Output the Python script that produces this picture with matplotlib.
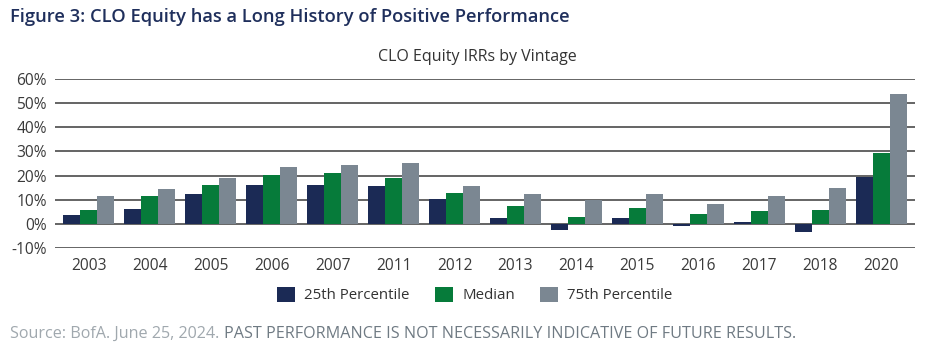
import matplotlib
matplotlib.use("Agg")
import matplotlib.pyplot as plt
import numpy as np

plt.rcParams['font.family'] = ['Open Sans', 'DejaVu Sans']

vintages = ['2003', '2004', '2005', '2006', '2007', '2011', '2012',
            '2013', '2014', '2015', '2016', '2017', '2018', '2020']
p25 = [3.7, 6.2, 12.4, 16.1, 16.1, 15.7, 10.1, 2.5, -2.5, 2.5, -0.8, 0.8, -3.3, 19.4]
median = [5.8, 11.6, 16.1, 20.2, 21.1, 19.0, 12.8, 7.4, 2.9, 6.6, 4.1, 5.4, 5.8, 29.3]
p75 = [11.6, 14.5, 19.0, 23.6, 24.4, 25.2, 15.7, 12.4, 9.9, 12.4, 8.3, 11.6, 14.9, 53.7]
series_names = ['25th Percentile', 'Median', '75th Percentile']
colors = ['#1b2a55', '#067b3a', '#7b8792']

fig = plt.figure(figsize=(9.39, 3.54), dpi=100)
ax = fig.add_axes([55 / 939, 1 - 248 / 354, 860 / 939, 169 / 354])

x = np.arange(len(vintages))
w = 0.277
for i, (vals, name, c) in enumerate(zip([p25, median, p75], series_names, colors)):
    ax.bar(x + (i - 1) * w, vals, width=w, color=c, label=name, zorder=3)

ax.set_ylim(-10, 60)
ax.set_xlim(-0.55, len(vintages) - 0.45)
ax.set_yticks(range(-10, 61, 10))
ax.set_yticklabels([f'{v}%' for v in range(-10, 61, 10)])
ax.set_xticks(x)
ax.set_xticklabels(vintages)
ax.grid(axis='y', color='#4a4a4a', linewidth=1.2, zorder=0)
for s in ax.spines.values():
    s.set_visible(False)
ax.tick_params(length=0, labelsize=11.2, labelcolor='#3a3a3a')
ax.tick_params(axis='y', pad=6)
ax.tick_params(axis='x', pad=7)

fig.text(10 / 939, 1 - 17 / 354, 'Figure 3: CLO Equity has a Long History of Positive Performance',
         fontsize=13.2, fontweight='semibold', color='#1f2f5c', va='center', ha='left')
fig.text(477 / 939, 1 - 57 / 354, 'CLO Equity IRRs by Vintage',
         fontsize=11.5, color='#333333', va='center', ha='center')

fig.legend(loc='center', bbox_to_anchor=(475 / 939, 1 - 295 / 354), ncol=3, frameon=False,
           fontsize=10.8, handlelength=1.2, handleheight=1.2, columnspacing=1.7,
           handletextpad=0.6, labelcolor='#333333')

t1 = fig.text(10 / 939, 1 - 334 / 354, 'Source: BofA. June 25, 2024. ',
              fontsize=11.6, color='#a0a8ae', va='center', ha='left')
fig.canvas.draw()
bb = t1.get_window_extent()
fig.text(bb.x1 / 939, 1 - 334 / 354, 'PAST PERFORMANCE IS NOT NECESSARILY INDICATIVE OF FUTURE RESULTS.',
         fontsize=11.6, color='#6f7a83', va='center', ha='left')

fig.savefig('out.png', dpi=100)
